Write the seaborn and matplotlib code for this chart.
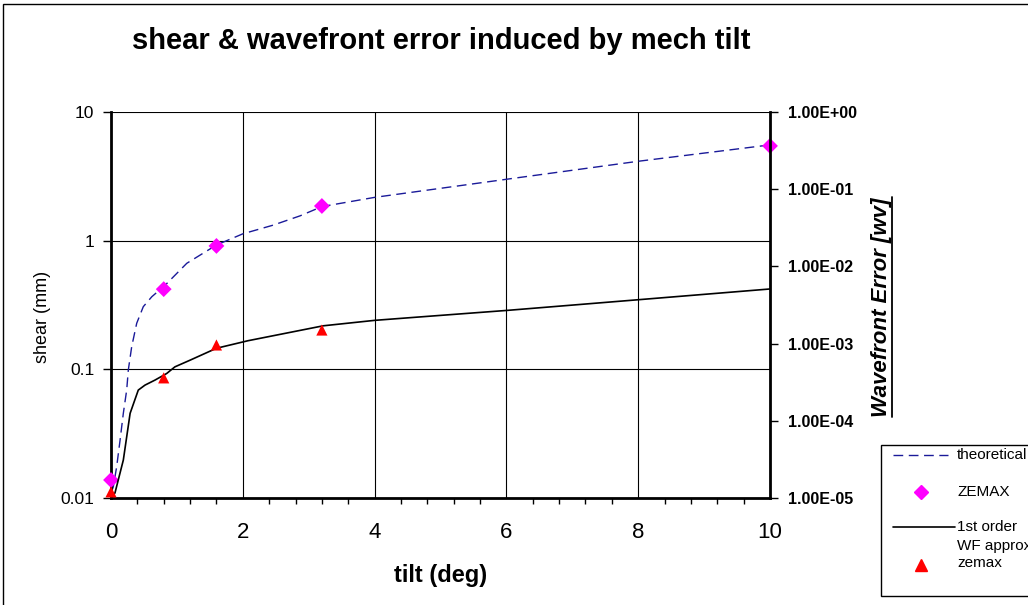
import matplotlib
matplotlib.use("Agg")
import matplotlib.pyplot as plt
from matplotlib.lines import Line2D
from matplotlib.patches import Rectangle
from matplotlib.ticker import FixedLocator, MultipleLocator, NullLocator
import seaborn as sns

# ---------------- data ----------------
theory_tilt = [0, 0.035, 0.086, 0.137, 0.187, 0.238, 0.263, 0.314, 0.39, 0.49,
               0.62, 0.82, 1.15, 1.6, 2.0, 2.46, 2.87, 3.2, 4, 6, 8, 10]
theory_shear = [0.011, 0.0122, 0.0175, 0.028, 0.0455, 0.069, 0.099, 0.150, 0.228, 0.307,
                0.367, 0.45, 0.667, 0.925, 1.13, 1.32, 1.56, 1.84, 2.17, 3.0, 4.14, 5.55]

zemax_shear_tilt = [0, 0.8, 1.6, 3.2, 10]
zemax_shear = [0.0138, 0.42, 0.91, 1.86, 5.45]

wf_tilt = [0, 0.06, 0.187, 0.29, 0.414, 0.516, 0.668, 0.845, 0.97, 1.2, 1.6, 2.08,
           3.22, 4.0, 4.64, 6.03, 8.0, 10]
wf_error = [1.05e-5, 1.16e-5, 3.1e-5, 1.25e-4, 2.5e-4, 2.9e-4, 3.37e-4, 4.1e-4, 5.0e-4,
            6.1e-4, 8.7e-4, 1.09e-3, 1.7e-3, 2.0e-3, 2.2e-3, 2.7e-3, 3.7e-3, 5.1e-3]

zemax_wf_tilt = [0, 0.8, 1.6, 3.2]
zemax_wf = [1.2e-5, 3.6e-4, 9.6e-4, 1.5e-3]

x_ticks = [0, 2, 4, 6, 8, 10]
shear_ticks = [0.01, 0.1, 1, 10]
shear_tick_labels = ["0.01", "0.1", "1", "10"]
wf_ticks = [1e-5, 1e-4, 1e-3, 1e-2, 1e-1, 1]
wf_tick_labels = ["1.00E-05", "1.00E-04", "1.00E-03", "1.00E-02", "1.00E-01", "1.00E+00"]

title = "shear & wavefront error induced by mech tilt"
legend_labels = ["theoretical", "ZEMAX", "1st order", "WF approx", "zemax"]

# ---------------- style ----------------
sns.set_style("white")
plt.rcParams["font.family"] = ["Liberation Sans", "DejaVu Sans"]
plt.rcParams["text.color"] = "black"
plt.rcParams["axes.labelcolor"] = "black"
plt.rcParams["xtick.color"] = "black"
plt.rcParams["ytick.color"] = "black"

W, H = 1028, 605
fig = plt.figure(figsize=(W / 100, H / 100), dpi=100)


def fx(px):
    return px / W


def fy(py):
    return 1 - py / H


ax = fig.add_axes([fx(111), fy(498), fx(770) - fx(111), fy(112) - fy(498)])
ax.set_yscale("log")
ax2 = ax.twinx()
ax2.set_yscale("log")

theo_color = "#1a1a99"
sns.lineplot(x=theory_tilt, y=theory_shear, ax=ax, color=theo_color, lw=1.0,
             linestyle=(0, (7, 4)), sort=False, estimator=None)
sns.scatterplot(x=zemax_shear_tilt, y=zemax_shear, ax=ax, marker="D", color="#ff00ff",
                s=65, edgecolor="none", zorder=5, clip_on=False)
sns.lineplot(x=wf_tilt, y=wf_error, ax=ax2, color="black", lw=1.2, sort=False,
             estimator=None)
sns.scatterplot(x=zemax_wf_tilt, y=zemax_wf, ax=ax2, marker="^", color="#ff0000",
                s=65, edgecolor="none", zorder=5, clip_on=False)

ax.set_xlim(0, 10)
ax.set_ylim(0.01, 10)
ax2.set_ylim(1e-5, 1)

# x axis
ax.xaxis.set_major_locator(FixedLocator(x_ticks))
ax.xaxis.set_minor_locator(MultipleLocator(0.4))
ax.set_xticklabels([str(t) for t in x_ticks])
ax.tick_params(axis="x", which="major", direction="inout", length=8, width=1,
               color="black", labelcolor="black", labelsize=16, pad=13)
ax.tick_params(axis="x", which="minor", direction="out", length=4, width=1,
               color="black", bottom=True)

# left y axis
ax.yaxis.set_major_locator(FixedLocator(shear_ticks))
ax.yaxis.set_minor_locator(NullLocator())
ax.set_yticklabels(shear_tick_labels)
ax.tick_params(axis="y", which="major", direction="out", length=6, width=1,
               color="black", labelcolor="black", labelsize=12.5, pad=6, left=True)

# right y axis
ax2.yaxis.set_major_locator(FixedLocator(wf_ticks))
ax2.yaxis.set_minor_locator(NullLocator())
ax2.set_yticklabels(wf_tick_labels, fontweight="bold")
ax2.tick_params(axis="y", which="major", direction="out", length=6, width=1,
                color="black", labelcolor="black", labelsize=11.5, pad=7, right=True)

ax.grid(True, which="major", axis="both", color="black", lw=0.8)
ax.set_axisbelow(True)
ax2.grid(False)

for s in ["top", "right"]:
    ax.spines[s].set_visible(False)
for s in ["left", "bottom"]:
    ax.spines[s].set_color("black")
    ax.spines[s].set_linewidth(2)
for s in ["left", "top", "bottom"]:
    ax2.spines[s].set_visible(False)
ax2.spines["right"].set_color("black")
ax2.spines["right"].set_linewidth(2)

ax.set_xlabel("tilt (deg)", fontsize=17, fontweight="bold", color="black")
ax.xaxis.set_label_coords(0.5, -0.172)
ax.set_ylabel("shear (mm)", fontsize=13, color="black")
ax.yaxis.set_label_coords(-0.091, 0.47)
ax2.set_ylabel("")

fig.text(fx(441), fy(41), title, ha="center", va="center", fontsize=21,
         fontweight="bold", color="black")

wf_label = fig.text(fx(881), fy(307), "Wavefront Error [wv]", rotation=90,
                    ha="center", va="center", fontsize=16, fontweight="bold",
                    style="italic", color="black")

# outer chart frame
fig.patches.append(Rectangle((fx(3), -0.1), 1.2, fy(4) + 0.1, transform=fig.transFigure,
                             fill=False, edgecolor="black", lw=1, clip_on=False))

# legend (Excel style, drawn in figure coordinates)
fig.patches.append(Rectangle((fx(881), fy(596)), 0.2, fy(445) - fy(596),
                             transform=fig.transFigure, facecolor="white",
                             edgecolor="black", lw=1, clip_on=False))
fig.lines.append(Line2D([fx(893), fx(948)], [fy(455), fy(455)], transform=fig.transFigure,
                        color=theo_color, lw=1.0, linestyle=(0, (7, 4))))
fig.lines.append(Line2D([fx(921)], [fy(492)], transform=fig.transFigure, marker="D",
                        markersize=7, color="#ff00ff", linestyle="none"))
fig.lines.append(Line2D([fx(893), fx(955)], [fy(527), fy(527)], transform=fig.transFigure,
                        color="black", lw=1.2))
fig.lines.append(Line2D([fx(921)], [fy(565)], transform=fig.transFigure, marker="^",
                        markersize=8, color="#ff0000", linestyle="none"))
for lab, py in zip(legend_labels, [455, 492, 527, 546, 563]):
    fig.text(fx(957), fy(py), lab, ha="left", va="center", fontsize=11, color="black")

# underline the right axis title
fig.canvas.draw()
bb = wf_label.get_window_extent(renderer=fig.canvas.get_renderer())
fig.lines.append(Line2D([fx(892), fx(892)], [bb.y0 / H, bb.y1 / H],
                        transform=fig.transFigure, color="black", lw=1.3))

fig.savefig("out.png", dpi=100)
